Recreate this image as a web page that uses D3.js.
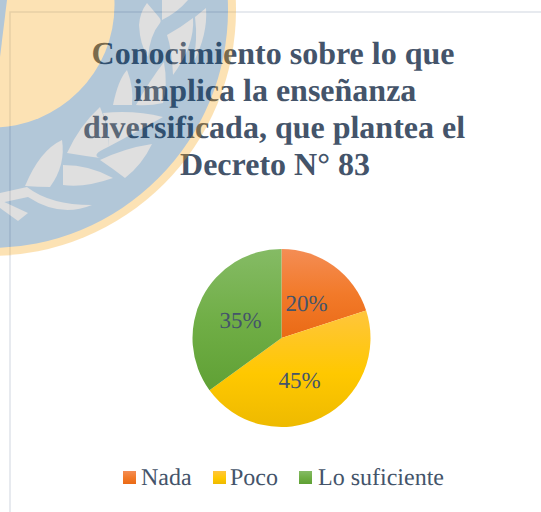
<!DOCTYPE html>
<html><head><meta charset="utf-8">
<script src="https://cdn.jsdelivr.net/npm/d3@7"></script>
<style>html,body{margin:0;padding:0;background:#fff}svg{display:block}text{font-family:"Liberation Serif",serif;text-rendering:geometricPrecision}</style>
</head><body><svg id="c" width="541" height="512"></svg>
<script>
const titleLines = ["Conocimiento sobre lo que","implica la enseñanza","diversificada, que plantea el","Decreto N° 83"];
const categories = ["Nada","Poco","Lo suficiente"];
const values = [20,45,35];
const sliceStops = [["#f48d55","#f27a2a","#ea6a15"],["#ffc53f","#ffc800","#eeba00"],["#85bb65","#70ae46","#5fa034"]];
const legendX = [123,213,299];
const legendTextX = [141,230,318];
const leaves = [
 "M0,193 L27,187 Q50,205 92,205 Q60,218 28,197 L0,203Z",
 "M0,200 L28,213 L18,221 L0,208Z",
 "M25,186 Q40,150 62,140 Q66,165 50,187 Q38,187 25,186Z",
 "M63,165 Q90,165 113,178 Q85,188 63,185Z",
 "M100,160 Q125,148 152,144 Q142,165 125,178 Q112,168 100,160Z",
 "M67,153 Q80,125 100,107 Q110,130 108,147 Q90,155 100,158 Q85,156 67,153Z",
 "M103,113 Q135,110 163,117 Q140,130 108,147 Q110,130 103,113Z",
 "M113,105 Q118,80 127,70 Q134,88 132,105Z",
 "M136,105 Q150,80 164,62 Q168,85 163,103 Q150,106 136,105Z",
 "M139,25 Q140,12 147,3 L158,16 Q162,20 160,23 Q150,35 148,57 Q140,45 139,25Z",
 "M167,35 Q180,28 193,18 Q195,45 173,75 Q172,50 167,35Z",
 "M195,17 L206,8 Q208,35 193,63 Q198,40 195,17Z",
 "M162,0 L188,0 Q178,12 162,20Z"
];

const svg = d3.select("#c");
const defs = svg.append("defs");
const r=89, cx=281.5, cy=338;
const sliceRange = [[-r,0],[-30,r],[-r,55]];
sliceStops.forEach((g,i)=>{
  const a = defs.append("linearGradient").attr("id","g"+i).attr("gradientUnits","userSpaceOnUse")
    .attr("x1",0).attr("x2",0).attr("y1",sliceRange[i][0]).attr("y2",sliceRange[i][1]);
  const b = defs.append("linearGradient").attr("id","lg"+i).attr("x1",0).attr("x2",0).attr("y1",0).attr("y2",1);
  [a,b].forEach(l=>g.forEach((c,j)=>l.append("stop").attr("offset",j===1?(i===1?"55%":"50%"):(j*50)+"%").attr("stop-color",c)));
});

// chart border
svg.append("path").attr("d","M541,12 H10 V512").attr("fill","none").attr("stroke","#dfe4ea").attr("stroke-width",1.5);

// title
svg.append("g").selectAll("text").data(titleLines).join("text")
  .attr("x",(d,i)=>[273,275,274,275][i]).attr("y",(d,i)=>64+i*37)
  .attr("text-anchor","middle").attr("font-size",32).attr("font-weight","bold").attr("fill","#44546a").text(d=>d);

// pie
const pie = d3.pie().sort(null)(values);
const arc = d3.arc().innerRadius(0).outerRadius(r);
const gp = svg.append("g").attr("transform",`translate(${cx},${cy})`);
gp.selectAll("path").data(pie).join("path").attr("d",arc).attr("fill",(d,i)=>`url(#g${i})`);
const labelOffset=[[25,-27],[18,50],[-41,-10]];
gp.selectAll("text").data(pie).join("text")
  .attr("x",(d,i)=>labelOffset[i][0]).attr("y",(d,i)=>labelOffset[i][1])
  .attr("text-anchor","middle").attr("font-size",23).attr("fill","#44546a").text(d=>d.data+"%");

// legend
const lg = svg.append("g").selectAll("g").data(categories).join("g");
lg.append("rect").attr("x",(d,i)=>legendX[i]).attr("y",471).attr("width",13).attr("height",13).attr("fill",(d,i)=>`url(#lg${i})`);
lg.append("text").attr("x",(d,i)=>legendTextX[i]).attr("y",485).attr("font-size",24).attr("fill","#44546a").text(d=>d);

// translucent watermark above everything
const wm = svg.append("g").attr("opacity",0.3);
wm.append("circle").attr("cx",-10).attr("cy",10).attr("r",246).attr("fill","rgb(248,162,12)");
wm.append("circle").attr("cx",-10).attr("cy",10).attr("r",238).attr("fill","rgb(5,72,128)");
wm.append("circle").attr("cx",-8).attr("cy",5).attr("r",122.5).attr("fill","rgb(248,162,12)");
wm.append("path").attr("d","M0,0 L7,0 L0,57Z").attr("fill","rgb(5,72,128)");
wm.selectAll("path.leaf").data(leaves).join("path").attr("class","leaf").attr("d",d=>d).attr("fill","rgb(150,150,150)");
</script></body></html>
